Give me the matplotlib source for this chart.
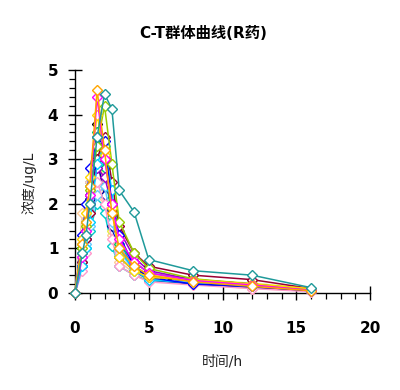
import matplotlib
matplotlib.use("Agg")
import matplotlib.pyplot as plt
from matplotlib.ticker import MultipleLocator

plt.rcParams['font.family'] = ['DejaVu Sans', 'Noto Sans CJK SC']

times = [0, 0.5, 0.75, 1, 1.5, 2, 2.5, 3, 4, 5, 8, 12, 16]

subjects = {
    'S01': [0, 0.9, 1.3, 2.0, 3.5, 4.46, 4.13, 2.3, 1.82, 0.75, 0.5, 0.4, 0.12],
    'S02': [0, 1.1, 1.6, 2.4, 4.55, 3.2, 1.8, 1.0, 0.6, 0.4, 0.25, 0.15, 0.05],
    'S03': [0, 0.8, 1.4, 2.2, 4.4, 3.0, 2.0, 1.2, 0.7, 0.45, 0.28, 0.18, 0.06],
    'S04': [0, 1.2, 1.8, 2.6, 4.0, 3.1, 1.9, 0.8, 0.5, 0.35, 0.3, 0.2, 0.1],
    'S05': [0, 1.0, 1.5, 2.3, 3.3, 4.2, 2.9, 1.6, 0.9, 0.55, 0.32, 0.2, 0.08],
    'S06': [0, 1.3, 2.0, 2.8, 3.5, 3.4, 2.0, 1.3, 0.6, 0.35, 0.2, 0.15, 0.05],
    'S07': [0, 0.6, 1.0, 1.6, 2.9, 3.3, 2.3, 1.0, 0.5, 0.3, 0.22, 0.15, 0.08],
    'S08': [0, 0.7, 1.2, 1.8, 3.0, 3.5, 2.5, 1.5, 0.9, 0.6, 0.4, 0.3, 0.1],
    'S09': [0, 0.9, 1.3, 2.0, 2.8, 2.6, 2.0, 1.4, 0.8, 0.5, 0.3, 0.2, 0.07],
    'S10': [0, 0.5, 0.9, 1.8, 2.5, 2.0, 1.2, 0.6, 0.4, 0.25, 0.18, 0.1, 0.03],
    'S11': [0, 0.7, 1.1, 1.5, 2.2, 2.4, 1.6, 0.9, 0.55, 0.3, 0.25, 0.18, 0.08],
    'S12': [0, 1.0, 1.6, 2.4, 3.6, 2.8, 1.7, 1.1, 0.7, 0.45, 0.3, 0.2, 0.07],
    'S13': [0, 0.6, 1.2, 2.1, 3.0, 2.2, 1.5, 0.8, 0.5, 0.3, 0.2, 0.12, 0.05],
    'S14': [0, 1.1, 1.5, 2.1, 3.2, 2.4, 1.4, 0.9, 0.6, 0.4, 0.3, 0.22, 0.1],
    'S15': [0, 1.8, 2.0, 2.5, 3.0, 2.1, 1.3, 0.7, 0.45, 0.3, 0.2, 0.1, 0.05],
    'S16': [0, 0.8, 1.0, 1.4, 2.0, 1.8, 1.05, 0.6, 0.4, 0.28, 0.2, 0.15, 0.05],
    'S17': [0, 1.0, 1.4, 2.2, 3.8, 3.0, 1.7, 1.0, 0.55, 0.35, 0.25, 0.15, 0.05],
    'S18': [0, 1.1, 1.7, 2.5, 3.1, 2.9, 1.8, 1.1, 0.6, 0.4, 0.24, 0.15, 0.06],
}

colors = ['#1f9a9a', '#FFA500', '#FF00FF', '#FFD700', '#99CC00', '#0000FF',
          '#00CCFF', '#990033', '#9900CC', '#FF99CC', '#66CCFF', '#00CC66',
          '#000099', '#EEEE44', '#FFCC99', '#00CCCC', '#000000', '#3366FF']

fig = plt.figure(figsize=(4.0, 3.9), dpi=100)
ax = fig.add_axes([0.1875, 0.2487, 0.7375, 0.5718])

names = list(subjects.keys())
n = len(names)
for i in range(n - 1, -1, -1):
    vals = subjects[names[i]]
    c = colors[i]
    ls = (0, (3, 2)) if c == '#000000' else '-'
    ax.plot(times, vals, color=c, lw=1.1, ls=ls, marker='D', markersize=5,
            markerfacecolor='white', markeredgecolor=c, markeredgewidth=1.0,
            clip_on=False, zorder=3 + (n - i))

ax.set_xlim(0, 20)
ax.set_ylim(0, 5)
ax.xaxis.set_major_locator(MultipleLocator(5))
ax.xaxis.set_minor_locator(MultipleLocator(1))
ax.yaxis.set_major_locator(MultipleLocator(1))
ax.yaxis.set_minor_locator(MultipleLocator(0.2))
for s in ['top', 'right']:
    ax.spines[s].set_visible(False)
for s in ['left', 'bottom']:
    ax.spines[s].set_color('black')
    ax.spines[s].set_linewidth(1.0)
ax.tick_params(which='major', direction='inout', length=10, width=1.0, labelsize=11)
ax.tick_params(axis='x', which='major', pad=15)
ax.tick_params(axis='y', which='major', pad=7)
ax.tick_params(which='minor', direction='out', length=4, width=0.9)
for lab in ax.get_xticklabels() + ax.get_yticklabels():
    lab.set_fontweight('bold')

fig.text(0.508, 0.915, 'C-T群体曲线(R药)', ha='center', va='center', fontsize=11, fontweight='bold')
fig.text(0.557, 0.072, '时间/h', ha='center', va='center', fontsize=10, color='#222222')
fig.text(0.0725, 0.531, '浓度/ug/L', ha='center', va='center', fontsize=10, rotation=90, color='#222222')

fig.savefig('out.png', dpi=100)
